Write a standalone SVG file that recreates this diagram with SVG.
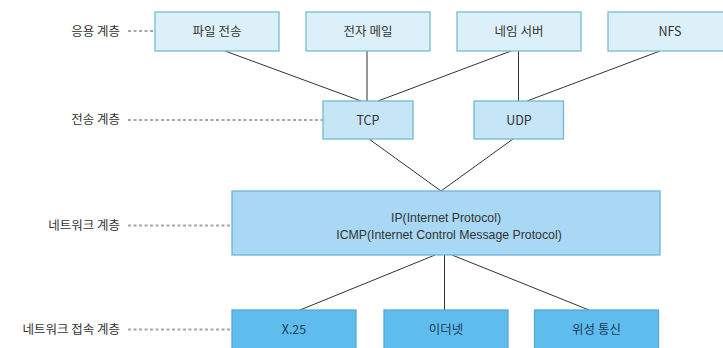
<svg xmlns="http://www.w3.org/2000/svg" width="723" height="348" viewBox="0 0 723 348">
<style>
text{font-family:"Noto Sans CJK KR","Liberation Sans",sans-serif;font-size:12.5px;fill:#333;}
.lbl{text-anchor:end;}
.ctr{text-anchor:middle;}
.lat{font-family:"Liberation Sans","Noto Sans CJK KR",sans-serif;font-size:12.3px;}
.app{fill:#dcf0fa;stroke:#78bccf;stroke-width:1.3;}
.tr{fill:#c6e5f7;stroke:#70b8cf;stroke-width:1.3;}
.net{fill:#a8d8f4;stroke:#6cb6d6;stroke-width:1.3;}
.lnk{fill:#5fbdee;stroke:#56a9d2;stroke-width:1.3;}
.lnkt{fill:#1d3a58;}
.dot{stroke:#a8a8a8;stroke-width:2;stroke-dasharray:3 2.5;fill:none;}
.edge{stroke:#333;stroke-width:1;fill:none;}
</style>
<g id="layer-labels">
<text class="lbl" x="120" y="35.5">응용 계층</text>
<line class="dot" x1="128" y1="31" x2="155" y2="31"/>
<text class="lbl" x="120" y="124">전송 계층</text>
<line class="dot" x1="128" y1="120" x2="323" y2="120"/>
<text class="lbl" x="120" y="230">네트워크 계층</text>
<line class="dot" x1="128" y1="225.5" x2="232" y2="225.5"/>
<text class="lbl" x="120" y="334">네트워크 접속 계층</text>
<line class="dot" x1="128" y1="329.5" x2="232" y2="329.5"/>
</g>
<g id="connectors">
<line class="edge" x1="225" y1="51" x2="361" y2="101"/>
<line class="edge" x1="367" y1="51" x2="367" y2="101"/>
<line class="edge" x1="511" y1="51" x2="378" y2="101"/>
<line class="edge" x1="518.5" y1="51" x2="518.5" y2="101"/>
<line class="edge" x1="660" y1="51" x2="527" y2="101"/>
<line class="edge" x1="369" y1="139" x2="441" y2="191"/>
<line class="edge" x1="513" y1="139" x2="441" y2="191"/>
<line class="edge" x1="435" y1="255" x2="300" y2="310"/>
<line class="edge" x1="444.5" y1="255" x2="444.5" y2="310"/>
<line class="edge" x1="452" y1="255" x2="589" y2="310"/>
</g>
<g id="node-file">
<rect class="app" x="155" y="12" width="124" height="39"/>
<text class="ctr" x="217" y="35.5">파일 전송</text>
</g>
<g id="node-mail">
<rect class="app" x="306" y="12" width="124" height="39"/>
<text class="ctr" x="368" y="35.5">전자 메일</text>
</g>
<g id="node-name">
<rect class="app" x="457" y="12" width="124" height="39"/>
<text class="ctr" x="519" y="35.5">네임 서버</text>
</g>
<g id="node-nfs">
<rect class="app" x="608" y="12" width="124" height="39"/>
<text class="ctr" x="670" y="35.5">NFS</text>
</g>
<g id="node-tcp">
<rect class="tr" x="323" y="101" width="90" height="38"/>
<text class="ctr" x="368" y="124.5">TCP</text>
</g>
<g id="node-udp">
<rect class="tr" x="474" y="101" width="89.5" height="38"/>
<text class="ctr" x="519" y="124.5">UDP</text>
</g>
<g id="node-ip">
<rect class="net" x="232" y="191" width="428" height="64"/>
<text class="ctr lat" x="446" y="221.5">IP(Internet Protocol)</text>
<text class="ctr lat" x="449" y="238.5">ICMP(Internet Control Message Protocol)</text>
</g>
<g id="node-x25">
<rect class="lnk" x="232" y="310" width="124" height="42"/>
<text class="ctr lnkt" x="294" y="333.5">X.25</text>
</g>
<g id="node-ethernet">
<rect class="lnk" x="384" y="310" width="124" height="42"/>
<text class="ctr lnkt" x="446" y="333.5">이더넷</text>
</g>
<g id="node-satellite">
<rect class="lnk" x="534.5" y="310" width="124" height="42"/>
<text class="ctr lnkt" x="596.5" y="333.5">위성 통신</text>
</g>
</svg>
